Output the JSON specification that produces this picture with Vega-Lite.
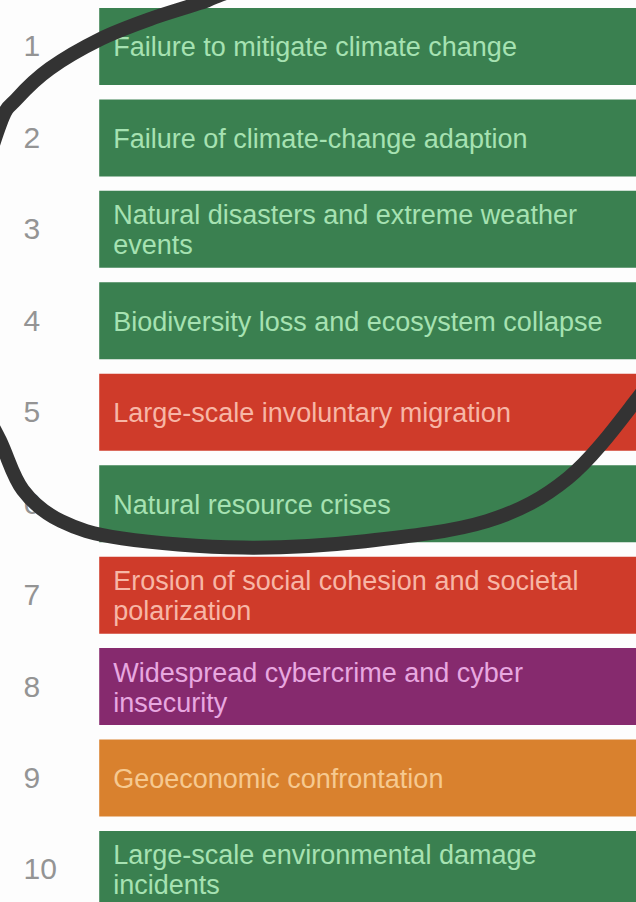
{
  "$schema": "https://vega.github.io/schema/vega-lite/v6.json",
  "width": 636,
  "height": 902,
  "autosize": {"type": "none"},
  "padding": 0,
  "background": "#fdfdfd",
  "config": {"view": {"stroke": null}, "scale": {"continuousPadding": 0}},
  "datasets": {
    "risks": [
      {"rank": 1, "label": "Failure to mitigate climate change", "lines": 1, "category": "Environmental"},
      {"rank": 2, "label": "Failure of climate-change adaption", "lines": 1, "category": "Environmental"},
      {"rank": 3, "label": "Natural disasters and extreme weather\nevents", "lines": 2, "category": "Environmental"},
      {"rank": 4, "label": "Biodiversity loss and ecosystem collapse", "lines": 1, "category": "Environmental"},
      {"rank": 5, "label": "Large-scale involuntary migration", "lines": 1, "category": "Societal"},
      {"rank": 6, "label": "Natural resource crises", "lines": 1, "category": "Environmental"},
      {"rank": 7, "label": "Erosion of social cohesion and societal\npolarization", "lines": 2, "category": "Societal"},
      {"rank": 8, "label": "Widespread cybercrime and cyber\ninsecurity", "lines": 2, "category": "Technological"},
      {"rank": 9, "label": "Geoeconomic confrontation", "lines": 1, "category": "Geopolitical"},
      {"rank": 10, "label": "Large-scale environmental damage\nincidents", "lines": 2, "category": "Environmental"}
    ],
    "loop": [
      {"i": 0, "x": 50.31, "r": 0.054},
      {"i": 1, "x": 40.88, "r": 0.273},
      {"i": 2, "x": 33.81, "r": 0.459},
      {"i": 3, "x": 31.45, "r": 0.524},
      {"i": 4, "x": 23.58, "r": 0.70},
      {"i": 5, "x": 15.72, "r": 0.92},
      {"i": 6, "x": 7.86, "r": 1.24},
      {"i": 7, "x": 2.67, "r": 1.57},
      {"i": 8, "x": 0.0, "r": 1.85},
      {"i": 9, "x": -4.5, "r": 2.90},
      {"i": 10, "x": -6.8, "r": 3.77},
      {"i": 11, "x": -4.5, "r": 4.65},
      {"i": 12, "x": 0.0, "r": 5.31},
      {"i": 13, "x": 3.6, "r": 5.85},
      {"i": 14, "x": 9.59, "r": 6.19},
      {"i": 15, "x": 19.18, "r": 6.38},
      {"i": 16, "x": 38.21, "r": 6.48},
      {"i": 17, "x": 57.39, "r": 6.41},
      {"i": 18, "x": 76.57, "r": 6.19},
      {"i": 19, "x": 89.31, "r": 5.72},
      {"i": 20, "x": 100.0, "r": 4.87},
      {"i": 21, "x": 105.35, "r": 4.28}
    ]
  },
  "layer": [
    {
      "data": {"name": "risks"},
      "mark": {"type": "bar", "size": 77, "orient": "horizontal", "clip": true},
      "encoding": {
        "y": {"field": "rank", "type": "quantitative", "scale": {"domain": [0.4915, 10.356], "reverse": true, "nice": false, "zero": false, "padding": 0}, "axis": null},
        "x": {"datum": 15.6, "type": "quantitative", "scale": {"domain": [0, 100], "nice": false, "zero": false, "padding": 0}, "axis": null},
        "x2": {"datum": 100},
        "color": {
          "field": "category", "type": "nominal", "legend": null,
          "scale": {"domain": ["Environmental", "Societal", "Technological", "Geopolitical"], "range": ["#3a8050", "#cf3b2a", "#862a6e", "#d9812e"]}
        }
      }
    },
    {
      "data": {"name": "risks"},
      "mark": {"type": "text", "align": "left", "baseline": "middle", "font": "Liberation Sans", "fontSize": 30, "color": "#949494", "dy": 1, "clip": true},
      "encoding": {
        "y": {"field": "rank", "type": "quantitative", "scale": {"domain": [0.4915, 10.356], "reverse": true, "nice": false, "zero": false, "padding": 0}, "axis": null},
        "x": {"datum": 3.7, "type": "quantitative", "scale": {"domain": [0, 100], "nice": false, "zero": false, "padding": 0}, "axis": null},
        "text": {"field": "rank", "type": "nominal"}
      }
    },
    {
      "data": {"name": "risks"},
      "transform": [{"filter": "datum.lines == 1"}],
      "mark": {"type": "text", "align": "left", "baseline": "middle", "font": "Liberation Sans", "fontSize": 27, "dy": 2, "clip": true},
      "encoding": {
        "y": {"field": "rank", "type": "quantitative", "scale": {"domain": [0.4915, 10.356], "reverse": true, "nice": false, "zero": false, "padding": 0}, "axis": null},
        "x": {"datum": 17.8, "type": "quantitative", "scale": {"domain": [0, 100], "nice": false, "zero": false, "padding": 0}, "axis": null},
        "text": {"field": "label", "type": "nominal"},
        "color": {
          "field": "category", "type": "nominal", "legend": null,
          "scale": {"domain": ["Environmental", "Societal", "Technological", "Geopolitical"], "range": ["#a6e2b2", "#f7b6a6", "#e8a8e0", "#f6c990"]}
        }
      }
    },
    {
      "data": {"name": "risks"},
      "transform": [{"filter": "datum.lines == 2"}],
      "mark": {"type": "text", "align": "left", "baseline": "middle", "font": "Liberation Sans", "fontSize": 27, "lineHeight": 30, "lineBreak": "\n", "dy": -13, "clip": true},
      "encoding": {
        "y": {"field": "rank", "type": "quantitative", "scale": {"domain": [0.4915, 10.356], "reverse": true, "nice": false, "zero": false, "padding": 0}, "axis": null},
        "x": {"datum": 17.8, "type": "quantitative", "scale": {"domain": [0, 100], "nice": false, "zero": false, "padding": 0}, "axis": null},
        "text": {"field": "label", "type": "nominal"},
        "color": {
          "field": "category", "type": "nominal", "legend": null,
          "scale": {"domain": ["Environmental", "Societal", "Technological", "Geopolitical"], "range": ["#a6e2b2", "#f7b6a6", "#e8a8e0", "#f6c990"]}
        }
      }
    },
    {
      "data": {"name": "loop"},
      "mark": {"type": "line", "interpolate": "cardinal", "strokeWidth": 14, "strokeCap": "round", "color": "#333333", "clip": true},
      "encoding": {
        "y": {"field": "r", "type": "quantitative", "scale": {"domain": [0.4915, 10.356], "reverse": true, "nice": false, "zero": false, "padding": 0}, "axis": null},
        "x": {"field": "x", "type": "quantitative", "scale": {"domain": [0, 100], "nice": false, "zero": false, "padding": 0}, "axis": null},
        "order": {"field": "i", "type": "quantitative"}
      }
    }
  ],
  "resolve": {"scale": {"color": "independent"}}
}
